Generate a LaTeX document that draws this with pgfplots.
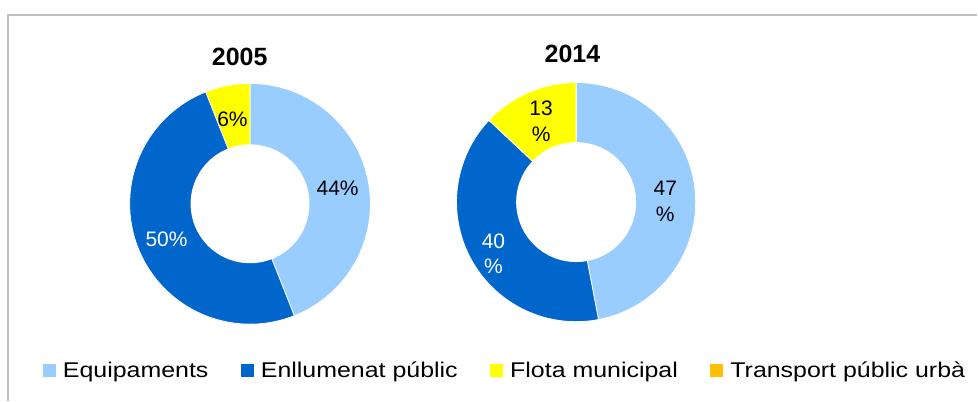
\documentclass[border=0pt]{standalone}
\usepackage{pgfplots}
\pgfplotsset{compat=1.18}
\usepackage{fontspec}
\setmainfont{Liberation Sans}
\newfontfamily\legfont{Liberation Sans}[FakeStretch=1.17]
\definecolor{cEq}{HTML}{99CCFF}
\definecolor{cEn}{HTML}{0066CC}
\definecolor{cFl}{HTML}{FFFF00}
\definecolor{cTr}{HTML}{FFC000}
\definecolor{frame}{HTML}{BFBFBF}
% wedge: cx, cy, R, start %, end %, colour
\newcommand{\donutwedge}[6]{%
  \addplot[fill=#6, draw=white, line width=0.6pt, forget plot,
    domain={90-3.6*(#5)}:{90-3.6*(#4)}, samples=90, variable=\t]
    ({#1+#3*cos(t)},{#2-#3*sin(t)}) -- (axis cs:#1,#2) -- cycle;}
\newcommand{\donuthole}[3]{%
  \addplot[fill=white, draw=none, forget plot, domain=0:360, samples=120, variable=\t]
    ({#1+#3*cos(t)},{#2-#3*sin(t)}) -- cycle;}
\begin{document}
\begin{tikzpicture}
\begin{axis}[
  scale only axis, width=733.5pt, height=300.75pt,
  xmin=0, xmax=978, ymin=0, ymax=401, y dir=reverse,
  hide axis, clip=false,
  legend columns=4,
  legend style={draw=none, fill=none, at={(axis cs:42.7,371)}, anchor=west,
    inner sep=0pt, outer sep=0pt,
    font=\legfont\fontsize{16}{18}\selectfont,
    nodes={inner sep=0pt},
    /tikz/every odd column/.append style={column sep=5.8pt},
    /tikz/every even column/.append style={column sep=24.2pt}},
]
\path (axis cs:0,0) rectangle (axis cs:978,401);
\draw[frame, line width=1.5pt] (axis cs:8,401) -- (axis cs:8,15) -- (axis cs:978,15);
% 2005: Equipaments 44, Enllumenat 50, Flota 6, Transport 0
\donutwedge{250.3}{204}{120.5}{0}{44}{cEq}
\donutwedge{250.3}{204}{120.5}{44}{94}{cEn}
\donutwedge{250.3}{204}{120.5}{94}{100}{cFl}
\donuthole{250.3}{204}{59.5}
% 2014: Equipaments 47, Enllumenat 40, Flota 13, Transport 0
\donutwedge{576.7}{202.3}{119.7}{0}{47}{cEq}
\donutwedge{576.7}{202.3}{119.7}{47}{87}{cEn}
\donutwedge{576.7}{202.3}{119.7}{87}{100}{cFl}
\donuthole{576.7}{202.3}{60}
% titles
\node[font=\bfseries\fontsize{18.75}{22}\selectfont] at (axis cs:240,57) {2005};
\node[font=\bfseries\fontsize{18.75}{22}\selectfont] at (axis cs:573,54) {2014};
% labels
\node[font=\fontsize{15.75}{19.5}\selectfont] at (axis cs:338,188) {44\%};
\node[font=\fontsize{15.75}{19.5}\selectfont, text=white] at (axis cs:166.7,240) {50\%};
\node[font=\fontsize{15.75}{19.5}\selectfont] at (axis cs:232.7,119.3) {6\%};
\node[font=\fontsize{15.75}{19.5}\selectfont, align=center] at (axis cs:666,201.5) {47\\\%};
\node[font=\fontsize{15.75}{19.5}\selectfont, align=center, text=white] at (axis cs:494,254) {40\\\%};
\node[font=\fontsize{15.75}{19.5}\selectfont, align=center] at (axis cs:541.7,121.7) {13\\\%};
% legend
\addlegendimage{legend image code/.code={\fill[cEq] (0pt,-4.5pt) rectangle (9pt,4.5pt);}}
\addlegendentry{Equipaments}
\addlegendimage{legend image code/.code={\fill[cEn] (0pt,-4.5pt) rectangle (9pt,4.5pt);}}
\addlegendentry{Enllumenat públic}
\addlegendimage{legend image code/.code={\fill[cFl] (0pt,-4.5pt) rectangle (9pt,4.5pt);}}
\addlegendentry{Flota municipal}
\addlegendimage{legend image code/.code={\fill[cTr] (0pt,-4.5pt) rectangle (9pt,4.5pt);}}
\addlegendentry{Transport públic urbà}
\end{axis}
\end{tikzpicture}
\end{document}
